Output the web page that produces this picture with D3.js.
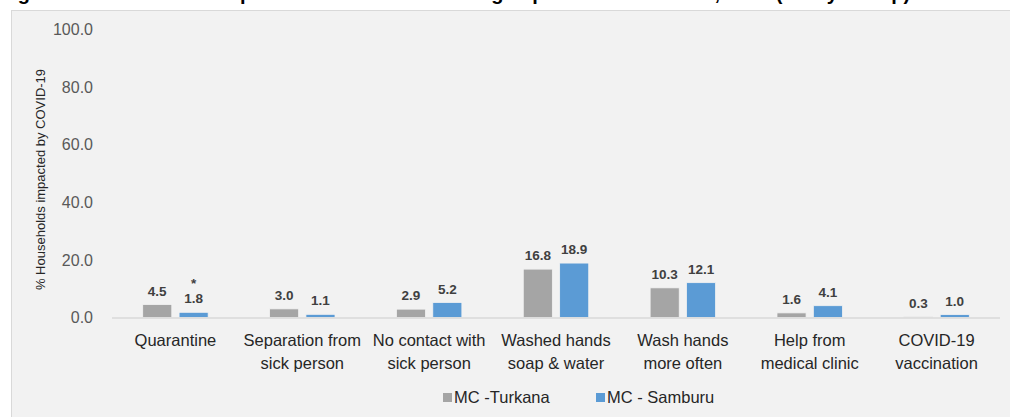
<!DOCTYPE html>
<html>
<head>
<meta charset="utf-8">
<script src="https://cdn.jsdelivr.net/npm/d3@7"></script>
<style>
  body { margin: 0; background: #fff; }
  text { font-family: "Liberation Sans", Arial, sans-serif; }
</style>
</head>
<body>
<div id="chart"></div>
<script>
// Variables
var width = 1010,
	height = 417,
	margin = {left: 112, right: 10, top: 29.5, bottom: 99.5};

// Data
var categories = [
	["Quarantine"],
	["Separation from", "sick person"],
	["No contact with", "sick person"],
	["Washed hands", "soap & water"],
	["Wash hands", "more often"],
	["Help from", "medical clinic"],
	["COVID-19", "vaccination"]
];
var seriesNames = ["MC -Turkana", "MC - Samburu"];
var turkana = [4.5, 3.0, 2.9, 16.8, 10.3, 1.6, 0.3];
var samburu = [1.8, 1.1, 5.2, 18.9, 12.1, 4.1, 1.0];
var notes = ["", "*"]; // asterisk only on first category of Samburu
var yTicks = [0, 20, 40, 60, 80, 100];
var colors = ["#a5a5a5", "#5b9bd5"];

var catKeys = categories.map(function(c) { return c.join(" "); });

var svg = d3.select("#chart").append("svg")
	.attr("width", width)
	.attr("height", height);

// title strip (only bottom of it shows, as in the source)
svg.append("text")
	.attr("x", 0)
	.attr("y", 0)
	.style("font-size", "20px")
	.style("font-weight", "bold")
	.attr("fill", "#000")
	.text("Figure 12: Household responses to COVID-19 among impacted households, 2021 (Study Group)");

// chart panel
svg.append("rect")
	.attr("x", 11.5)
	.attr("y", 10.5)
	.attr("width", width)
	.attr("height", height)
	.attr("fill", "#f2f2f2")
	.attr("stroke", "#d9d9d9");

var x0 = d3.scaleBand()
	.domain(catKeys)
	.range([margin.left, width - margin.right])
	.paddingInner(0.484)
	.paddingOuter(0.242);

var x1 = d3.scaleBand()
	.domain(seriesNames)
	.range([0, x0.bandwidth()])
	.paddingInner(0.2);

var y = d3.scaleLinear()
	.domain([0, 100])
	.range([height - margin.bottom, margin.top]);

// y axis (labels only)
var yAxis = svg.append("g")
	.attr("transform", "translate(" + (margin.left - 16) + ",0)")
	.call(d3.axisLeft(y).tickValues(yTicks).tickFormat(d3.format(".1f")).tickSize(0));
yAxis.select(".domain").remove();
yAxis.selectAll("text")
	.style("font-size", "16px")
	.style("font-family", "'Liberation Sans', Arial, sans-serif")
	.attr("fill", "#595959");

svg.append("text")
	.attr("transform", "translate(45," + ((y(0) + y(100)) / 2 + 6) + ") rotate(-90)")
	.attr("text-anchor", "middle")
	.style("font-size", "13px")
	.attr("fill", "#262626")
	.text("% Households impacted by COVID-19");

// bars
var rows = categories.map(function(c, i) {
	return {key: catKeys[i], vals: [turkana[i], samburu[i]]};
});

var groups = svg.append("g")
	.selectAll("g")
	.data(rows)
	.enter().append("g")
	.attr("transform", function(d) { return "translate(" + x0(d.key) + ",0)"; });

groups.selectAll("rect")
	.data(function(d) { return d.vals.map(function(v, j) { return {s: seriesNames[j], v: v, j: j}; }); })
	.enter().append("rect")
	.attr("x", function(d) { return x1(d.s); })
	.attr("y", function(d) { return y(d.v); })
	.attr("width", x1.bandwidth())
	.attr("height", function(d) { return y(0) - y(d.v); })
	.attr("fill", function(d) { return colors[d.j]; })
	.attr("stroke", "#f2f2f2")
	.attr("stroke-width", 0.8);

groups.selectAll("text.val")
	.data(function(d) { return d.vals.map(function(v, j) { return {s: seriesNames[j], v: v, j: j}; }); })
	.enter().append("text")
	.attr("class", "val")
	.attr("x", function(d) { return x1(d.s) + x1.bandwidth() / 2; })
	.attr("y", function(d) { return y(d.v) - 9; })
	.attr("text-anchor", "middle")
	.style("font-size", "13.5px")
	.style("font-weight", "bold")
	.attr("fill", "#404040")
	.text(function(d) { return d3.format(".1f")(d.v); });

// asterisk over Samburu quarantine
svg.append("text")
	.attr("x", x0(catKeys[0]) + x1(seriesNames[1]) + x1.bandwidth() / 2)
	.attr("y", y(samburu[0]) - 24)
	.attr("text-anchor", "middle")
	.style("font-size", "13.5px")
	.style("font-weight", "bold")
	.attr("fill", "#404040")
	.text(notes[1]);

// baseline
svg.append("line")
	.attr("x1", margin.left)
	.attr("x2", width - margin.right)
	.attr("y1", y(0) + 0.5)
	.attr("y2", y(0) + 0.5)
	.attr("stroke", "#d9d9d9")
	.attr("stroke-width", 1.5);

// category labels
var cat = svg.append("g")
	.selectAll("text")
	.data(categories)
	.enter().append("text")
	.attr("text-anchor", "middle")
	.attr("x", function(d, i) { return x0(catKeys[i]) + x0.bandwidth() / 2; })
	.attr("y", y(0) + 28)
	.style("font-size", "16.5px")
	.attr("fill", "#262626");
cat.selectAll("tspan")
	.data(function(d) { return d; })
	.enter().append("tspan")
	.attr("x", function() { return d3.select(this.parentNode).attr("x"); })
	.attr("dy", function(d, i) { return i === 0 ? 0 : 23; })
	.text(function(d) { return d; });

// legend
var legendX = [443, 596];
var legend = svg.append("g")
	.selectAll("g")
	.data(seriesNames)
	.enter().append("g")
	.attr("transform", function(d, i) { return "translate(" + legendX[i] + ",393)"; });
legend.append("rect")
	.attr("width", 9)
	.attr("height", 9)
	.attr("fill", function(d, i) { return colors[i]; });
legend.append("text")
	.attr("x", 11)
	.attr("y", 10)
	.style("font-size", "16.5px")
	.attr("fill", "#262626")
	.text(function(d) { return d; });
</script>
</body>
</html>
